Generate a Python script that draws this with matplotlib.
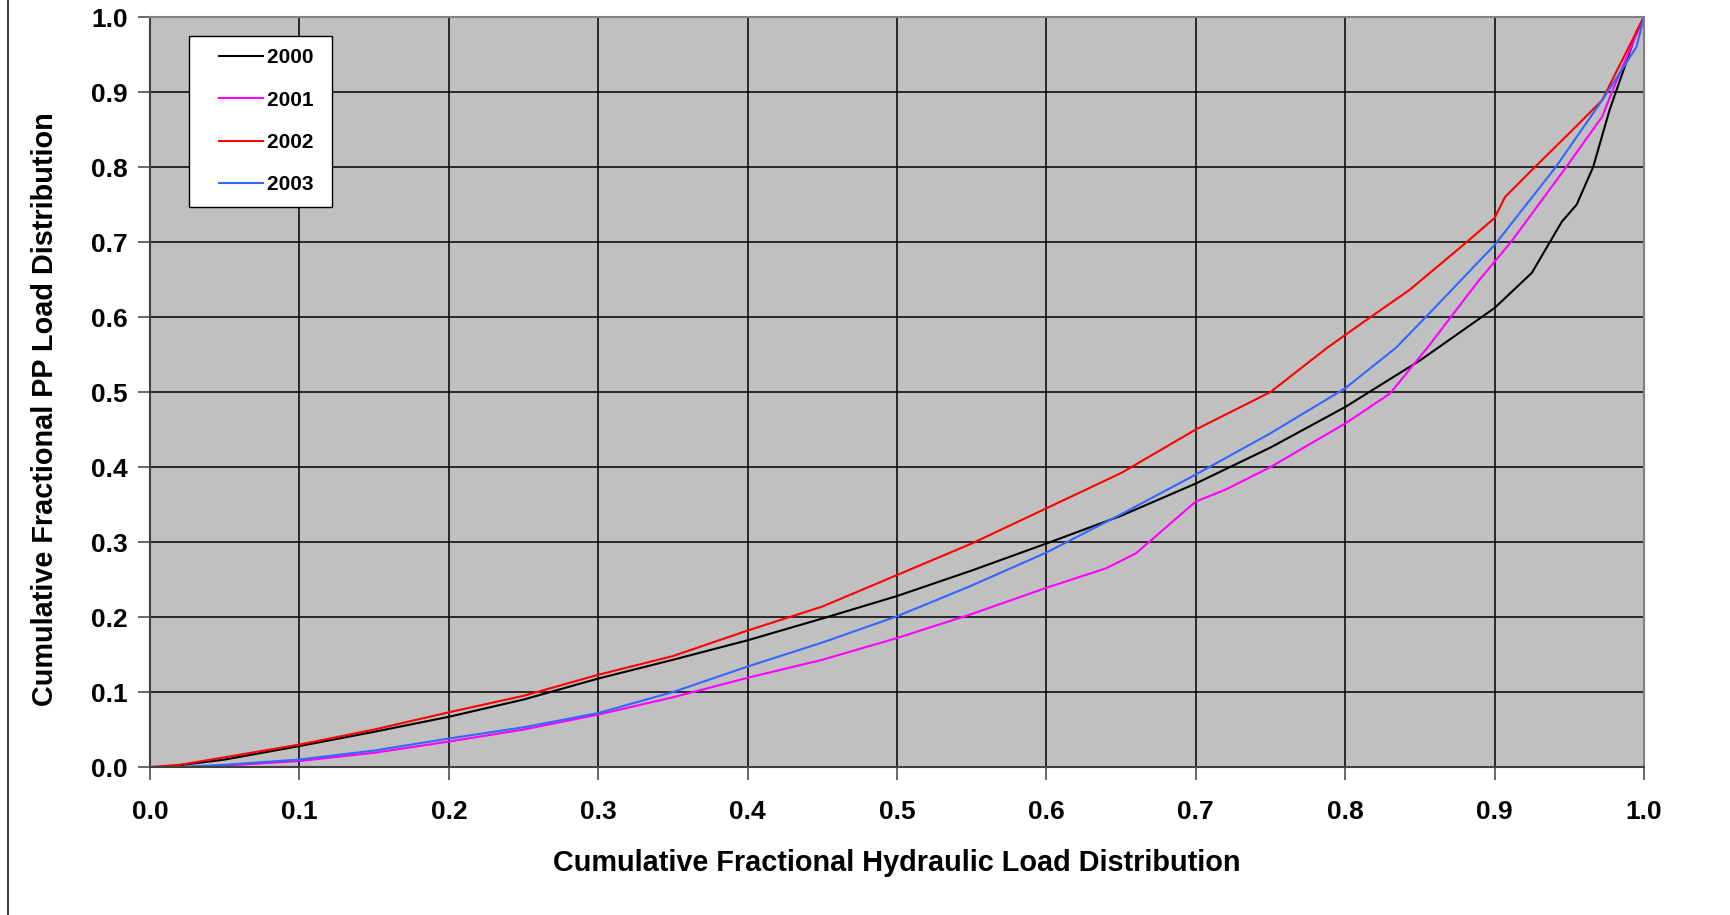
import matplotlib.pyplot as plt
from matplotlib.lines import Line2D
from matplotlib.legend_handler import HandlerLine2D
import numpy as np

plt.rcParams['font.family'] = ['Liberation Sans', 'DejaVu Sans']
plt.rcParams['font.weight'] = 'bold'

years = ['2000', '2001', '2002', '2003']
colors = ['#000000', '#FF00FF', '#FF0000', '#3366FF']

# cumulative hydraulic fraction (x) vs cumulative PP fraction (y)
x2000 = [0.0, 0.01, 0.05, 0.1, 0.15, 0.2, 0.25, 0.3, 0.35, 0.4, 0.45, 0.5, 0.55, 0.6, 0.65, 0.7,
         0.75, 0.8, 0.85, 0.9, 0.925, 0.945, 0.955, 0.966, 0.977, 0.987, 0.995, 1.0]
y2000 = [0.0, 0.0, 0.01, 0.028, 0.047, 0.067, 0.09, 0.118, 0.143, 0.169, 0.198, 0.228, 0.262, 0.298, 0.335, 0.378,
         0.426, 0.48, 0.542, 0.612, 0.659, 0.727, 0.75, 0.80, 0.876, 0.933, 0.98, 1.0]

x2001 = [0.0, 0.03, 0.05, 0.1, 0.15, 0.2, 0.25, 0.3, 0.35, 0.4, 0.45, 0.5, 0.55, 0.6, 0.64, 0.66,
         0.7, 0.72, 0.75, 0.8, 0.83, 0.855, 0.888, 0.911, 0.948, 0.972, 0.98, 1.0]
y2001 = [0.0, 0.0, 0.002, 0.008, 0.019, 0.034, 0.05, 0.07, 0.093, 0.119, 0.143, 0.172, 0.204, 0.239, 0.265, 0.285,
         0.354, 0.37, 0.40, 0.458, 0.498, 0.559, 0.645, 0.70, 0.80, 0.867, 0.907, 1.0]

x2002 = [0.0, 0.02, 0.05, 0.1, 0.15, 0.2, 0.25, 0.3, 0.35, 0.4, 0.45, 0.5, 0.55, 0.6, 0.65, 0.7,
         0.75, 0.788, 0.8, 0.817, 0.843, 0.879, 0.9, 0.907, 0.925, 0.952, 0.972, 0.981, 1.0]
y2002 = [0.0, 0.003, 0.013, 0.03, 0.05, 0.073, 0.095, 0.123, 0.148, 0.182, 0.214, 0.256, 0.298, 0.345, 0.392, 0.45,
         0.50, 0.559, 0.576, 0.60, 0.636, 0.696, 0.732, 0.76, 0.796, 0.849, 0.889, 0.925, 1.0]

x2003 = [0.0, 0.02, 0.05, 0.1, 0.15, 0.2, 0.25, 0.3, 0.35, 0.4, 0.45, 0.5, 0.55, 0.6, 0.65, 0.7,
         0.75, 0.8, 0.834, 0.854, 0.9, 0.941, 0.972, 0.995, 1.0]
y2003 = [0.0, 0.0, 0.003, 0.01, 0.022, 0.038, 0.053, 0.072, 0.1, 0.134, 0.166, 0.201, 0.242, 0.286, 0.337, 0.39,
         0.445, 0.505, 0.559, 0.60, 0.696, 0.80, 0.889, 0.96, 1.0]

xs = [x2000, x2001, x2002, x2003]
ys = [y2000, y2001, y2002, y2003]

fig = plt.figure(figsize=(17.31, 9.15), dpi=100)
ax = fig.add_axes([0.0867, 0.1617, 0.8630, 0.8197])
ax.set_facecolor('#C0C0C0')

for xv, yv, c, lab in zip(xs, ys, colors, years):
    ax.plot(xv, yv, color=c, lw=1.5, label=lab + ' ')

ax.set_xlim(0, 1)
ax.set_ylim(0, 1)
ticks = np.arange(0, 1.01, 0.1)
ax.set_xticks(ticks)
ax.set_yticks(ticks)
ax.set_xticklabels(['%.1f' % t for t in ticks])
ax.set_yticklabels(['%.1f' % t for t in ticks])
ax.grid(True, color='#000000', lw=1.1)
ax.set_axisbelow(True)
ax.tick_params(direction='out', length=9, width=1.1, color='#404040', labelsize=19)
ax.tick_params(axis='x', pad=15)
ax.tick_params(axis='y', pad=7)
for side in ['top', 'right']:
    ax.spines[side].set_color('#808080')
    ax.spines[side].set_linewidth(1.5)
for side in ['left', 'bottom']:
    ax.spines[side].set_color('#404040')
    ax.spines[side].set_linewidth(1.5)

ax.set_xlabel('Cumulative Fractional Hydraulic Load Distribution', fontsize=20.8, fontweight='bold', labelpad=18)
ax.set_ylabel('Cumulative Fractional PP Load Distribution', fontsize=20.8, fontweight='bold')
ax.yaxis.set_label_coords(-0.061, 0.477)

leg = ax.legend(loc='upper left', bbox_to_anchor=(0.026, 0.975), fontsize=15, frameon=True,
                fancybox=False, framealpha=1, edgecolor='black', handlelength=2.95,
                handletextpad=0.2, labelspacing=1.12, borderpad=0.6, borderaxespad=0,
                handler_map={Line2D: HandlerLine2D(xpad=0.84)})
leg.get_frame().set_linewidth(1.0)
for t in leg.get_texts():
    t.set_fontweight('bold')

fig.add_artist(Line2D([0.0045, 0.0045], [0, 1], transform=fig.transFigure, color='#404040', lw=1.5))

fig.savefig('out.png', dpi=100)
